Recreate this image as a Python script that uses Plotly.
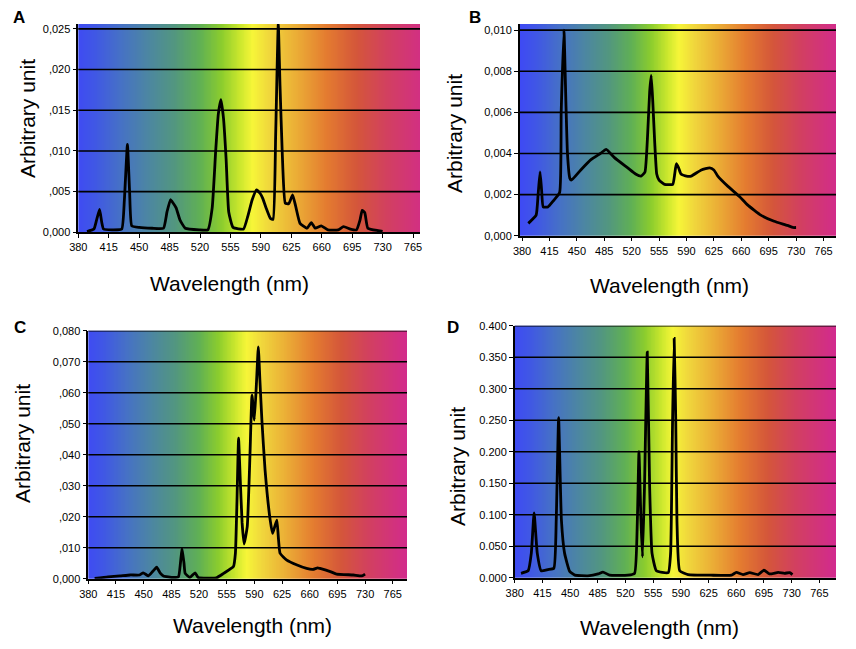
import plotly.graph_objects as go
import numpy as np

# ---------------- data ----------------
A_wl = [390, 398, 401, 404.5, 407, 409, 420, 430, 433, 436.5, 439, 441.5, 450, 465, 478, 482, 486, 489,
        492.5, 497, 503, 519, 529, 534, 538, 541, 544, 547, 550, 553, 558, 570, 575, 580, 585, 589, 592,
        596, 601, 604, 607, 610, 612, 614.5, 618, 622, 626.5, 630, 635, 643, 648, 652.5, 659.5, 667, 679,
        685, 693, 700, 704, 706.5, 709.5, 713, 725, 730]
A_val = [0.0001, 0.0004, 0.0015, 0.0028, 0.0012, 0.0004, 0.0003, 0.0004, 0.0040, 0.0108, 0.0050, 0.0008,
         0.0006, 0.0005, 0.0005, 0.0025, 0.0040, 0.0036, 0.0030, 0.0015, 0.0005, 0.0003, 0.0003, 0.0030,
         0.0100, 0.0145, 0.0163, 0.0140, 0.0090, 0.0025, 0.0006, 0.0004, 0.0020, 0.0040, 0.0052, 0.0048,
         0.0042, 0.0030, 0.0017, 0.0016, 0.0120, 0.0256, 0.0180, 0.0100, 0.0036, 0.0035, 0.0046, 0.0032,
         0.0011, 0.0005, 0.0012, 0.0005, 0.0008, 0.0003, 0.0003, 0.0007, 0.0004, 0.0003, 0.0015, 0.0027,
         0.0024, 0.0005, 0.0002, 0.0001]

B_wl = [388, 398, 400.5, 403, 405, 407, 413, 420, 428, 430, 433.5, 436, 438, 441, 443, 455, 468, 480,
        487.5, 498, 515, 525, 532, 537, 540.5, 543, 545, 547, 549.5, 552, 555, 562, 572.5, 575, 577, 580,
        583, 590, 596, 609, 619.5, 625, 630, 643, 658, 668, 685, 702, 719, 726, 730]
B_val = [0.0006, 0.0010, 0.0020, 0.0031, 0.0022, 0.0014, 0.0014, 0.0017, 0.0021, 0.0060, 0.0100, 0.0065,
         0.0040, 0.0028, 0.0027, 0.0032, 0.0037, 0.0040, 0.0042, 0.0038, 0.0033, 0.0030, 0.0029, 0.0031,
         0.0050, 0.0070, 0.0078, 0.0065, 0.0045, 0.0030, 0.0027, 0.0025, 0.0025, 0.0030, 0.0035, 0.0033,
         0.0030, 0.0029, 0.0029, 0.0032, 0.0033, 0.0032, 0.0029, 0.0024, 0.0019, 0.0015, 0.0010, 0.0007,
         0.0005, 0.0004, 0.0004]

C_wl = [388, 405, 420, 433, 445, 449.5, 456, 462, 466.5, 471, 475, 487.5, 494, 496.5, 498.5, 501, 502.5,
        508.5, 515, 519, 542, 551, 563.5, 566, 568, 570, 572, 574.5, 577, 581, 584.5, 587, 590, 593, 595,
        597, 599.5, 603.5, 610, 613, 616, 618.5, 622.5, 631, 644, 656, 664, 670, 673, 686, 694, 715, 726, 730]
C_val = [0.0001, 0.0006, 0.0009, 0.0012, 0.0012, 0.0019, 0.0009, 0.0025, 0.0037, 0.0018, 0.0009, 0.0004,
         0.0006, 0.0050, 0.0098, 0.0050, 0.0017, 0.0004, 0.0019, 0.0004, 0.0003, 0.0017, 0.0039, 0.0082,
         0.0250, 0.0453, 0.0329, 0.0180, 0.0112, 0.0168, 0.0404, 0.0592, 0.0512, 0.0650, 0.0748, 0.0640,
         0.0512, 0.0351, 0.0189, 0.0146, 0.0170, 0.0189, 0.0082, 0.0060, 0.0044, 0.0033, 0.0030, 0.0035,
         0.0033, 0.0023, 0.0015, 0.0012, 0.0009, 0.0015]

D_wl = [388, 397, 401, 404.5, 408.5, 413.5, 422, 429.5, 432.5, 435.5, 439, 443, 449.5, 456, 472.5, 485.5,
        491.5, 500, 523, 531.5, 535, 537, 539.5, 541.5, 544, 547.5, 550.5, 553.5, 559, 574, 577, 579.5,
        581.5, 583.5, 585, 588.5, 599, 628, 654, 660, 668.5, 677, 687.5, 695, 702, 713, 721, 727.5, 731]
D_val = [0.007, 0.011, 0.039, 0.103, 0.039, 0.011, 0.013, 0.015, 0.092, 0.254, 0.092, 0.039, 0.010, 0.004,
         0.003, 0.006, 0.009, 0.004, 0.004, 0.007, 0.092, 0.200, 0.092, 0.033, 0.144, 0.358, 0.144, 0.039,
         0.011, 0.008, 0.039, 0.250, 0.380, 0.250, 0.092, 0.011, 0.005, 0.004, 0.004, 0.0085, 0.005, 0.008,
         0.005, 0.012, 0.006, 0.0085, 0.007, 0.008, 0.005]

x_ticks = [380, 415, 450, 485, 520, 555, 590, 625, 660, 695, 730, 765]

A_yticks = [0, 0.005, 0.010, 0.015, 0.020, 0.025]
A_ytext = ["0,000", ",005", ",010", ",015", ",020", "0,025"]
B_yticks = [0, 0.002, 0.004, 0.006, 0.008, 0.010]
B_ytext = ["0,000", "0,002", "0,004", "0,006", "0,008", "0,010"]
C_yticks = [0, 0.01, 0.02, 0.03, 0.04, 0.05, 0.06, 0.07, 0.08]
C_ytext = ["0,000", ",010", ",020", ",030", ",040", ",050", ",060", "0,070", "0,080"]
D_yticks = [0, 0.05, 0.10, 0.15, 0.20, 0.25, 0.30, 0.35, 0.40]
D_ytext = ["0.000", "0.050", "0.100", "0.150", "0.200", "0.250", "0.300", "0.350", "0.400"]

panel_letters = ["A", "B", "C", "D"]
x_title = "Wavelength (nm)"
y_title = "Arbitrary unit"

# ---------------- styling / layout ----------------
PAGE_W, PAGE_H = 856, 649
OFF = 8                       # default page (body) margin of the html page
W, H = PAGE_W - 2 * OFF, PAGE_H - 2 * OFF

spectrum_stops = [
    (375, (62, 72, 246)), (400, (64, 88, 228)), (430, (70, 114, 196)), (460, (76, 134, 162)),
    (490, (82, 150, 128)), (520, (96, 176, 84)), (545, (140, 205, 45)), (565, (200, 230, 45)),
    (580, (246, 246, 56)), (600, (240, 214, 60)), (630, (235, 174, 54)), (665, (228, 124, 48)),
    (700, (212, 86, 58)), (735, (210, 64, 96)), (790, (210, 40, 146)),
]
zmin, zmax = 375, 790
colorscale = [[(w - zmin) / (zmax - zmin), "rgb(%d,%d,%d)" % c] for w, c in spectrum_stops]

# pixel positions measured on the page
panels = [
    dict(wl=A_wl, val=A_val, yt=A_yticks, ytt=A_ytext, xr=[380, 773], yr=[0, 0.0256],
         px=(78.3, 420), py=(24, 232.3), letter=(19, 17), xt=(229, 283), yti=(27, 119)),
    dict(wl=B_wl, val=B_val, yt=B_yticks, ytt=B_ytext, xr=[377, 781], yr=[0, 0.0103],
         px=(519.7, 836), py=(24, 235.7), letter=(475, 17), xt=(669, 285), yti=(454, 134)),
    dict(wl=C_wl, val=C_val, yt=C_yticks, ytt=C_ytext, xr=[380, 783], yr=[0, 0.080],
         px=(88.3, 407), py=(330.7, 578.7), letter=(20, 327), xt=(252, 625), yti=(22, 444)),
    dict(wl=D_wl, val=D_val, yt=D_yticks, ytt=D_ytext, xr=[380, 786], yr=[0, 0.400],
         px=(514.7, 836), py=(325.7, 577.7), letter=(453, 327), xt=(659, 627), yti=(457, 467)),
]


def fx(px):
    return (px - OFF) / W


def fy(py):
    return 1 - (py - OFF) / H


fig = go.Figure()
font_family = "Liberation Sans, Arial, sans-serif"
layout = dict(width=W, height=H, margin=dict(l=0, r=0, t=0, b=0, pad=0, autoexpand=False),
              paper_bgcolor="white", plot_bgcolor="white", showlegend=False,
              font=dict(family=font_family, color="black"))
shapes = []
annotations = []

for i, p in enumerate(panels):
    n = "" if i == 0 else str(i + 1)
    xa, ya = "x" + n, "y" + n
    edges = np.arange(zmin, zmax + 1, 1.0)
    centers = (edges[:-1] + edges[1:]) / 2
    fig.add_trace(go.Heatmap(x=edges, y=[-p["yr"][1], p["yr"][1] * 3], z=[centers, centers],
                             zmin=zmin, zmax=zmax, colorscale=colorscale, showscale=False,
                             hoverinfo="skip", xaxis=xa, yaxis=ya))
    fig.add_trace(go.Scatter(x=p["wl"], y=p["val"], mode="lines",
                             line=dict(color="black", width=2.8, shape="spline", smoothing=0.4),
                             xaxis=xa, yaxis=ya))
    x0, x1 = p["px"]
    y0, y1 = p["py"]
    layout["xaxis" + n] = dict(domain=[fx(x0), fx(x1)], range=p["xr"], anchor=ya, automargin=False,
                               tickvals=x_ticks, ticks="outside", ticklen=4, tickcolor="black",
                               showline=True, linecolor="black", linewidth=1.5,
                               showgrid=False, zeroline=False,
                               tickfont=dict(size=11, family=font_family, color="black"))
    layout["yaxis" + n] = dict(domain=[fy(y1), fy(y0)], range=p["yr"], anchor=xa,
                               automargin=False,
                               tickvals=p["yt"], ticktext=p["ytt"], ticks="outside", ticklen=4,
                               tickcolor="black", showline=True, linecolor="black", linewidth=1.5,
                               showgrid=False, zeroline=False,
                               tickfont=dict(size=11, family=font_family, color="black"))
    for v in p["yt"][1:]:
        shapes.append(dict(type="line", xref=xa + " domain", yref=ya, x0=0, x1=1, y0=v, y1=v,
                           line=dict(color="black", width=1.6), layer="above"))
    lx, ly = p["letter"]
    annotations.append(dict(text="<b>%s</b>" % panel_letters[i], x=fx(lx), y=fy(ly),
                            xref="paper", yref="paper", showarrow=False,
                            xanchor="center", yanchor="middle",
                            font=dict(size=17, family=font_family, color="black")))
    tx, ty = p["xt"]
    annotations.append(dict(text=x_title, x=fx(tx), y=fy(ty), xref="paper", yref="paper",
                            showarrow=False, xanchor="center", yanchor="middle",
                            font=dict(size=21, family=font_family, color="black")))
    sx, sy = p["yti"]
    annotations.append(dict(text=y_title, x=fx(sx), y=fy(sy), xref="paper", yref="paper",
                            showarrow=False, xanchor="center", yanchor="middle", textangle=-90,
                            font=dict(size=21, family=font_family, color="black")))

layout["shapes"] = shapes
layout["annotations"] = annotations
fig.update_layout(**layout)
fig.write_html("out.html")
